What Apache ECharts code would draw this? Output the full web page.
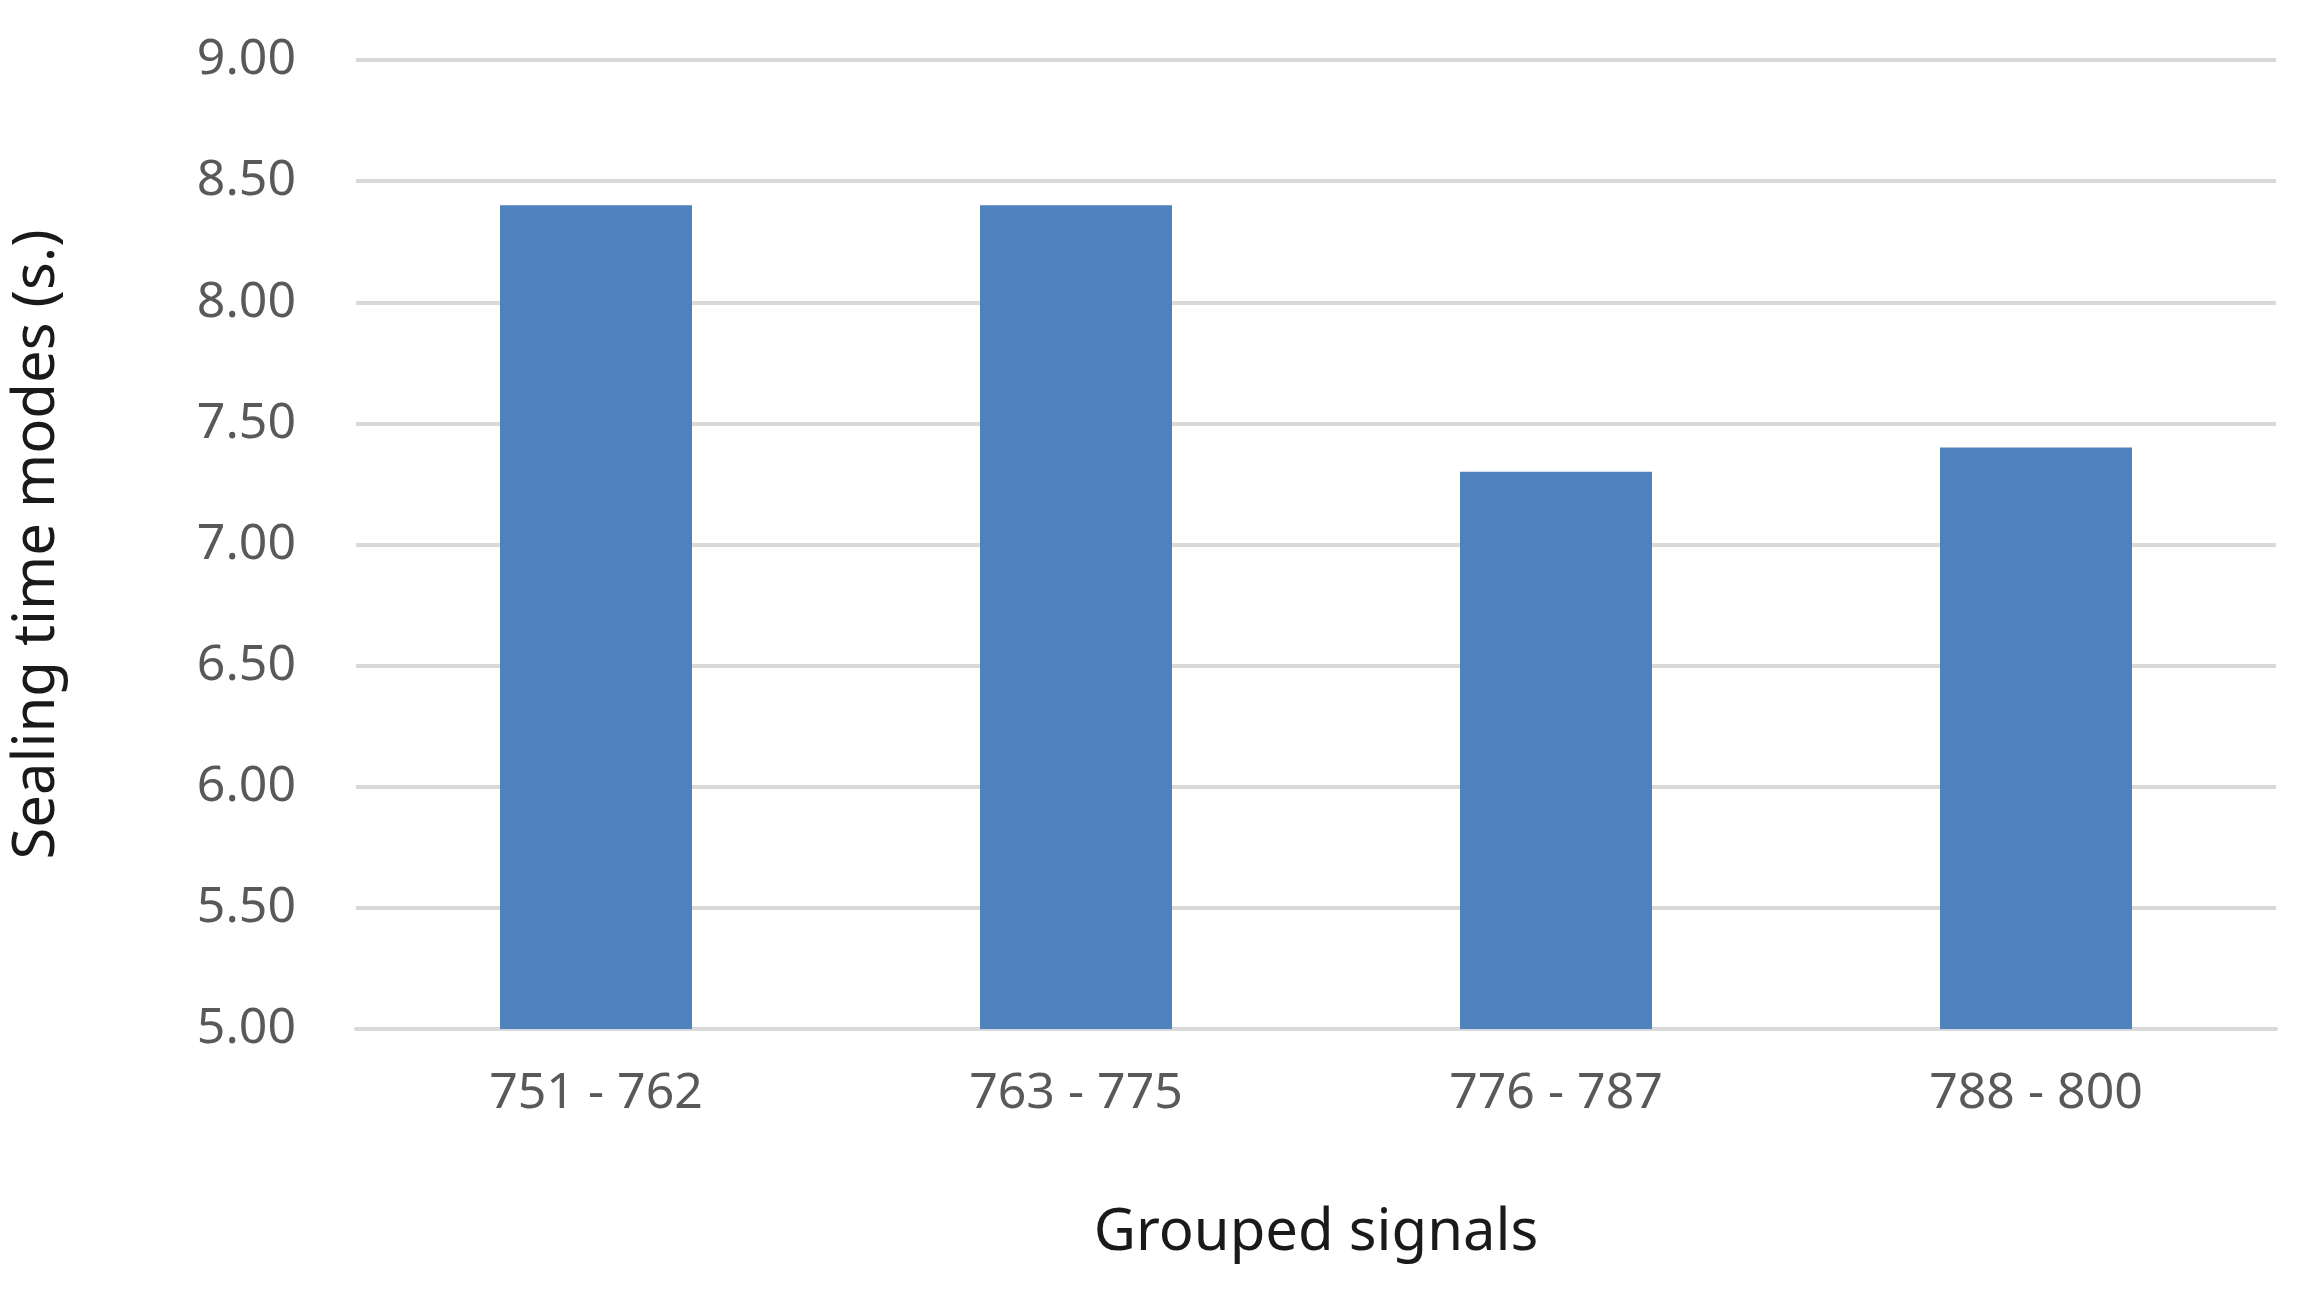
<!DOCTYPE html>
<html>
<head>
<meta charset="utf-8">
<style>html,body{margin:0;padding:0;background:#fff}#chart{width:2313px;height:1297px}</style>
<script src="https://cdn.jsdelivr.net/npm/echarts@6/dist/echarts.min.js"></script>
</head>
<body>
<div id="chart"></div>
<script>
    var categories = ['751 - 762', '763 - 775', '776 - 787', '788 - 800'];
    var sealingModes = [8.40, 8.40, 7.30, 7.40];

    var myChart = echarts.init(document.getElementById('chart'));
    var option = {
        animation: false,
        grid: { left: 353, right: 37, top: 60, bottom: 268 },
        xAxis: {
            type: 'category',
            data: categories,
            name: 'Grouped signals',
            nameLocation: 'middle',
            nameGap: 175,
            nameTextStyle: { fontFamily: 'Noto Sans', fontSize: 58, color: '#1a1a1a' },
            axisLine: { lineStyle: { color: '#d9d9d9', width: 4 } },
            axisTick: { show: false },
            axisLabel: { fontFamily: 'Noto Sans', fontSize: 50, color: '#595959', margin: 40 }
        },
        yAxis: {
            type: 'value',
            min: 5,
            max: 9,
            interval: 0.5,
            name: 'Sealing time modes (s.)',
            nameLocation: 'middle',
            nameGap: 290,
            nameTextStyle: { fontFamily: 'Noto Sans', fontSize: 58, color: '#1a1a1a' },
            axisLabel: {
                fontFamily: 'Noto Sans', fontSize: 50, color: '#595959', margin: 60,
                formatter: function (v) { return v.toFixed(2); }
            },
            splitLine: { lineStyle: { color: '#d9d9d9', width: 4 } }
        },
        series: [{
            type: 'bar',
            data: sealingModes,
            barWidth: '40%',
            itemStyle: { color: '#4f81bd' }
        }]
    };
    myChart.setOption(option);
</script>
</body>
</html>
